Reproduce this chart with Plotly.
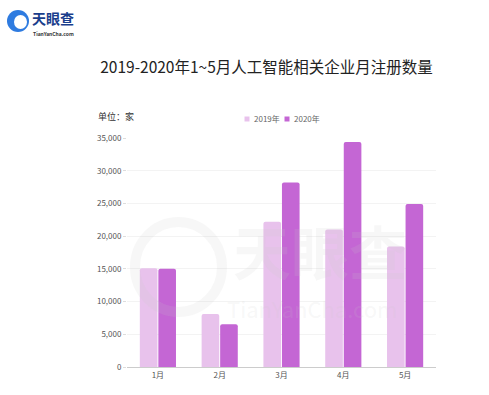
import plotly.graph_objects as go

months = ["1月", "2月", "3月", "4月", "5月"]
vals_2019 = [15100, 8100, 22200, 21000, 18400]
vals_2020 = [15000, 6550, 28200, 34400, 24900]
series_names = ["2019年", "2020年"]
series_colors = ["#E8C2EC", "#C466D4"]
y_ticks = [0, 5000, 10000, 15000, 20000, 25000, 30000, 35000]
title_text = "2019-2020年1~5月人工智能相关企业月注册数量"
unit_text = "单位：家"

FONT = "Noto Sans CJK SC, Open Sans, sans-serif"

# plot area in px: x 127..436, y 138..367
PL, PR, PT, PB = 127, 436, 138, 367
def px(x):
    return (x - PL) / (PR - PL)
def py(y):
    return (PB - y) / (PB - PT)

fig = go.Figure()
for name, vals, col in zip(series_names, [vals_2019, vals_2020], series_colors):
    fig.add_trace(go.Bar(x=months, y=vals, name=name, showlegend=False,
                         marker=dict(color=col, line=dict(width=0))))

fig.update_layout(
    width=489, height=395,
    paper_bgcolor="white", plot_bgcolor="white",
    margin=dict(l=PL, r=489 - PR, t=PT, b=395 - PB),
    barmode="group", bargap=0.4, bargroupgap=0.05,
    barcornerradius=2,
    font=dict(family=FONT, size=9, color="#555"),
    showlegend=False,
    title=dict(text=title_text, x=266.5 / 489, xanchor="center",
               y=1 - 68 / 395, yanchor="middle",
               font=dict(family=FONT, size=15.5, color="#222")),
    xaxis=dict(showline=True, linecolor="#ccc", linewidth=1, ticks="",
               tickfont=dict(size=8, color="#555"), showgrid=False),
    yaxis=dict(range=[0, 35000], tickvals=y_ticks, tickformat=",",
               showgrid=True, gridcolor="#f3f3f3", gridwidth=1,
               zeroline=False, ticks="outside", ticklen=3, tickcolor="#ddd",
               tickfont=dict(size=8, color="#555"), showline=False),
)

# manual legend (small squares + labels)
legend_marker_x = [247, 287]
for name, col, mx in zip(series_names, series_colors, legend_marker_x):
    fig.add_shape(type="rect", xref="paper", yref="paper",
                  x0=px(mx - 2.5), x1=px(mx + 2.5), y0=py(121.5), y1=py(116.5),
                  fillcolor=col, line=dict(width=0))
    fig.add_annotation(text=name, xref="paper", yref="paper", x=px(mx + 5), y=py(119),
                       xanchor="left", yanchor="middle", showarrow=False,
                       font=dict(size=8, color="#666", family=FONT))

# unit label
fig.add_annotation(text=unit_text, xref="paper", yref="paper", x=px(96), y=py(117),
                   xanchor="left", yanchor="middle", showarrow=False,
                   font=dict(size=9, color="#333", family=FONT))

# logo (top-left)
fig.add_shape(type="circle", xref="paper", yref="paper",
              x0=px(7), x1=px(29), y0=py(32), y1=py(10),
              fillcolor="#2E7BE0", line=dict(width=0))
fig.add_shape(type="circle", xref="paper", yref="paper",
              x0=px(14), x1=px(27), y0=py(29), y1=py(15),
              fillcolor="white", line=dict(width=0))
fig.add_annotation(text="<b>天眼查</b>", xref="paper", yref="paper", x=px(30), y=py(18),
                   xanchor="left", yanchor="middle", showarrow=False,
                   font=dict(size=14, color="#1A3E8C", family=FONT))
fig.add_annotation(text="<b>TianYanCha.com</b>", xref="paper", yref="paper", x=px(31), y=py(28),
                   xanchor="left", yanchor="top", showarrow=False,
                   font=dict(size=5, color="#333", family=FONT))

# watermark
wm = "rgba(200,200,200,0.15)"
fig.add_shape(type="circle", xref="paper", yref="paper",
              x0=px(135), x1=px(222), y0=py(312), y1=py(222),
              fillcolor="rgba(0,0,0,0)", line=dict(width=10, color=wm))
fig.add_annotation(text="<b>天眼查</b>", xref="paper", yref="paper", x=px(320), y=py(250),
                   xanchor="center", yanchor="middle", showarrow=False,
                   font=dict(size=58, color=wm, family=FONT))
fig.add_annotation(text="TianYanCha.com", xref="paper", yref="paper", x=px(312), y=py(290),
                   xanchor="center", yanchor="top", showarrow=False,
                   font=dict(size=22, color=wm, family=FONT))

fig.write_html("out.html", post_script="document.body.style.margin='0';",
               config={"displayModeBar": False})
